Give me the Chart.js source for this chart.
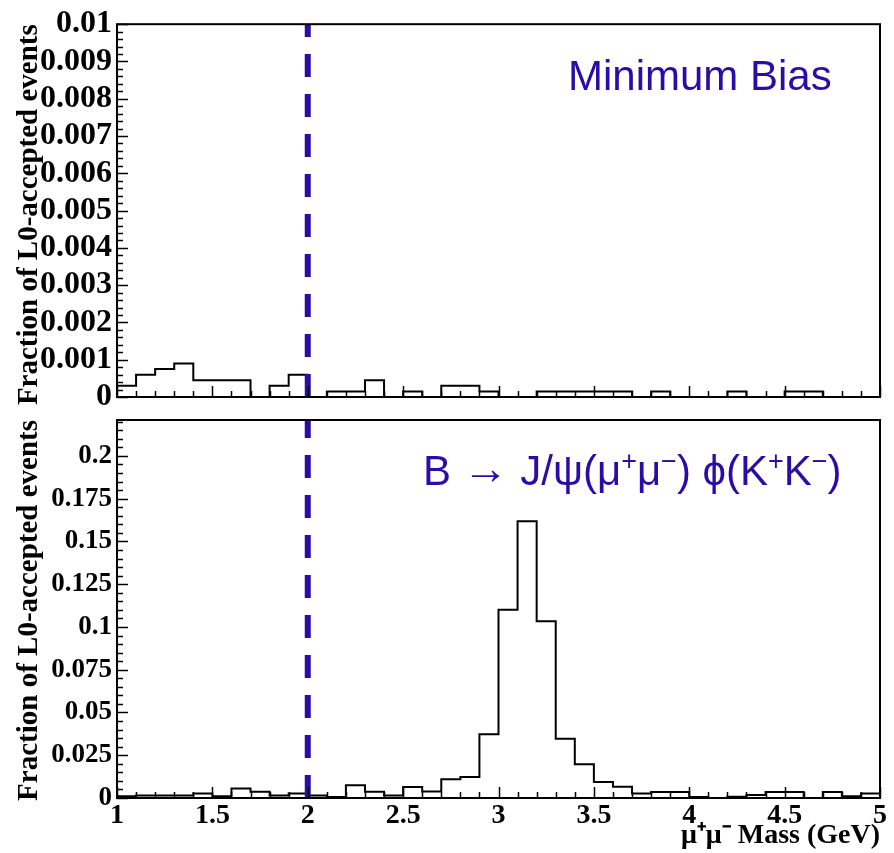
<!DOCTYPE html>
<html>
<head>
<meta charset="utf-8">
<script src="https://cdn.jsdelivr.net/npm/chart.js@4.4.1/dist/chart.umd.min.js"></script>
<style>
  html, body { margin: 0; padding: 0; background: #fff; }
  #wrap { position: relative; width: 894px; height: 853px; }
  #wrap canvas { position: absolute; left: 0; top: 0; }
</style>
</head>
<body>
<div id="wrap">
  <canvas id="topPanel" width="894" height="853"></canvas>
  <canvas id="bottomPanel" width="894" height="853"></canvas>
</div>
<script>
// bin edges of the mu+mu- mass histogram (GeV)
const binEdges = [1.0, 1.1, 1.2, 1.3, 1.4, 1.5, 1.6, 1.7, 1.8, 1.9,
                  2.0, 2.1, 2.2, 2.3, 2.4, 2.5, 2.6, 2.7, 2.8, 2.9,
                  3.0, 3.1, 3.2, 3.3, 3.4, 3.5, 3.6, 3.7, 3.8, 3.9,
                  4.0, 4.1, 4.2, 4.3, 4.4, 4.5, 4.6, 4.7, 4.8, 4.9, 5.0];

// Minimum Bias fractions per bin
const minBias = [0.0003, 0.0006, 0.00075, 0.0009, 0.00045, 0.00045, 0.00045, 0, 0.0003, 0.0006,
                 0, 0.00015, 0.00015, 0.00045, 0, 0.00015, 0, 0.0003, 0.0003, 0.00015,
                 0, 0, 0.00015, 0.00015, 0.00015, 0.00015, 0.00015, 0, 0.00015, 0,
                 0, 0, 0.00015, 0, 0, 0.00015, 0.00015, 0, 0, 0];

// B -> J/psi phi fractions per bin
const signal = [0.001, 0.0015, 0.0015, 0.0015, 0.0027, 0.001, 0.0055, 0.0037, 0.0014, 0.0027,
                0.0015, 0.0006, 0.0074, 0.0037, 0.0015, 0.0064, 0.0038, 0.011, 0.0123, 0.0372,
                0.11, 0.1618, 0.1033, 0.0347, 0.0197, 0.0094, 0.0066, 0.0026, 0.0035, 0.0035,
                0.0006, 0, 0.0008, 0.0018, 0.0035, 0.0035, 0, 0.0035, 0.001, 0.0027];

const xTicks = [1, 1.5, 2, 2.5, 3, 3.5, 4, 4.5, 5];
const topYTicks = [0, 0.001, 0.002, 0.003, 0.004, 0.005, 0.006, 0.007, 0.008, 0.009, 0.01];
const bottomYTicks = [0, 0.025, 0.05, 0.075, 0.1, 0.125, 0.15, 0.175, 0.2];
const cutMass = 2;

const BLUE = '#2a0ca6';
const SERIF = '"Liberation Serif", "Times New Roman", serif';
const SANS = '"Liberation Sans", Arial, sans-serif';
const yTitle = 'Fraction of L0-accepted events';

// outline points: each bin drawn from its low edge to its high edge
function histPoints(vals) {
  const n = vals.length;
  const pts = [{ x: binEdges[0], y: 0 }];
  vals.forEach((v, i) => pts.push({ x: binEdges[i], y: v }));
  pts.push({ x: binEdges[n], y: vals[n - 1] });
  pts.push({ x: binEdges[n], y: 0 });
  return pts;
}

function fmt(v) { return String(+v.toFixed(4)); }

// ROOT-like frame with ticks pointing inwards
const framePlugin = {
  id: 'frame',
  afterDatasetsDraw(chart, args, opts) {
    const { ctx, chartArea: a } = chart;
    const xs = chart.scales.x, ys = chart.scales.y;
    ctx.save();
    ctx.strokeStyle = '#000';
    ctx.lineWidth = 1.5;
    const xStep = xTicks[1] - xTicks[0];
    for (let k = 0; k <= Math.round((xs.max - xs.min) / (xStep / 5)); k++) {
      const v = xs.min + k * xStep / 5;
      const px = Math.round(xs.getPixelForValue(v)) + 0.5;
      const len = k % 5 === 0 ? 11 : 6;
      ctx.beginPath(); ctx.moveTo(px, a.bottom); ctx.lineTo(px, a.bottom - len); ctx.stroke();
    }
    const yt = opts.yTicks;
    const yStep = yt[1] - yt[0];
    const nMinor = Math.floor((ys.max - ys.min) / (yStep / 5) + 1e-6);
    for (let k = 0; k <= nMinor; k++) {
      const v = ys.min + k * yStep / 5;
      const py = Math.round(ys.getPixelForValue(v)) + 0.5;
      const len = k % 5 === 0 ? 11 : 6;
      ctx.beginPath(); ctx.moveTo(a.left, py); ctx.lineTo(a.left + len, py); ctx.stroke();
    }
    ctx.lineWidth = 2;
    ctx.strokeRect(a.left, a.top, a.right - a.left, a.bottom - a.top);
    ctx.restore();
  },
  afterDraw(chart, args, opts) {
    const { ctx, chartArea: a } = chart;
    ctx.save();
    ctx.fillStyle = BLUE;
    ctx.textBaseline = 'alphabetic';
    ctx.textAlign = 'left';
    let x = a.left + opts.labelX;
    const y = a.top + opts.labelY;
    opts.label.forEach(([txt, kind]) => {
      let dy = 0;
      if (kind === 'sup') { ctx.font = '27px ' + SANS; dy = -15; }
      else if (kind === 'arrow') { ctx.font = '46px ' + SANS; dy = -1; }
      else ctx.font = '42px ' + SANS;
      ctx.fillText(txt, x, y + dy);
      x += ctx.measureText(txt).width;
    });
    ctx.restore();
  }
};

function makePanel(id, vals, yMax, yTicks, yFont, pad, showX, label, labelX, labelY) {
  return new Chart(document.getElementById(id), {
    type: 'line',
    data: {
      datasets: [
        {
          data: [{ x: cutMass, y: 0 }, { x: cutMass, y: yMax }],
          borderColor: BLUE,
          borderWidth: 6,
          borderDash: [23, 17],
          pointRadius: 0,
          fill: false
        },
        {
          data: histPoints(vals),
          stepped: 'before',
          borderColor: '#000',
          borderWidth: 2,
          pointRadius: 0,
          fill: false
        }
      ]
    },
    options: {
      responsive: false,
      animation: false,
      devicePixelRatio: 1,
      layout: { padding: pad },
      plugins: {
        legend: { display: false },
        tooltip: { enabled: false },
        frame: { yTicks: yTicks, label: label, labelX: labelX, labelY: labelY }
      },
      scales: {
        x: {
          type: 'linear',
          min: 1,
          max: 5,
          display: showX,
          afterBuildTicks: s => { s.ticks = xTicks.map(v => ({ value: v })); },
          afterFit: s => { s.height = showX ? 55 : 0; },
          grid: { display: false, drawTicks: false },
          border: { display: false },
          ticks: {
            autoSkip: false,
            maxRotation: 0,
            padding: 1,
            color: '#000',
            font: { family: SERIF, size: 28, weight: 'bold' },
            callback: v => fmt(v)
          },
          title: {
            display: showX,
            text: 'μ⁺μ⁻ Mass (GeV)',
            align: 'end',
            color: '#000',
            padding: { top: 0, bottom: 0 },
            font: { family: SERIF, size: 28, weight: 'bold' }
          }
        },
        y: {
          type: 'linear',
          min: 0,
          max: yMax,
          afterBuildTicks: s => { s.ticks = yTicks.map(v => ({ value: v })); },
          afterFit: s => { s.width = 117; },
          grid: { display: false, drawTicks: false },
          border: { display: false },
          ticks: {
            autoSkip: false,
            padding: 5,
            color: '#000',
            font: { family: SERIF, size: yFont, weight: 'bold' },
            callback: v => fmt(v)
          },
          title: {
            display: true,
            text: yTitle,
            align: 'end',
            color: '#000',
            padding: { top: 12, bottom: 0 },
            font: { family: SERIF, size: 29, weight: 'bold' }
          }
        }
      }
    },
    plugins: [framePlugin]
  });
}

makePanel('topPanel', minBias, 0.01, topYTicks, 32,
  { left: 0, top: 18, right: 14, bottom: 456 }, false,
  [['Minimum Bias', '']], 451, 66);

makePanel('bottomPanel', signal, 0.221, bottomYTicks, 27,
  { left: 0, top: 420, right: 14, bottom: 0 }, true,
  [['B ', ''], ['→', 'arrow'], [' J/ψ(μ', ''], ['+', 'sup'], ['μ', ''], ['−', 'sup'],
   [') ϕ(K', ''], ['+', 'sup'], ['K', ''], ['−', 'sup'], [')', '']], 306, 65);
</script>
</body>
</html>
